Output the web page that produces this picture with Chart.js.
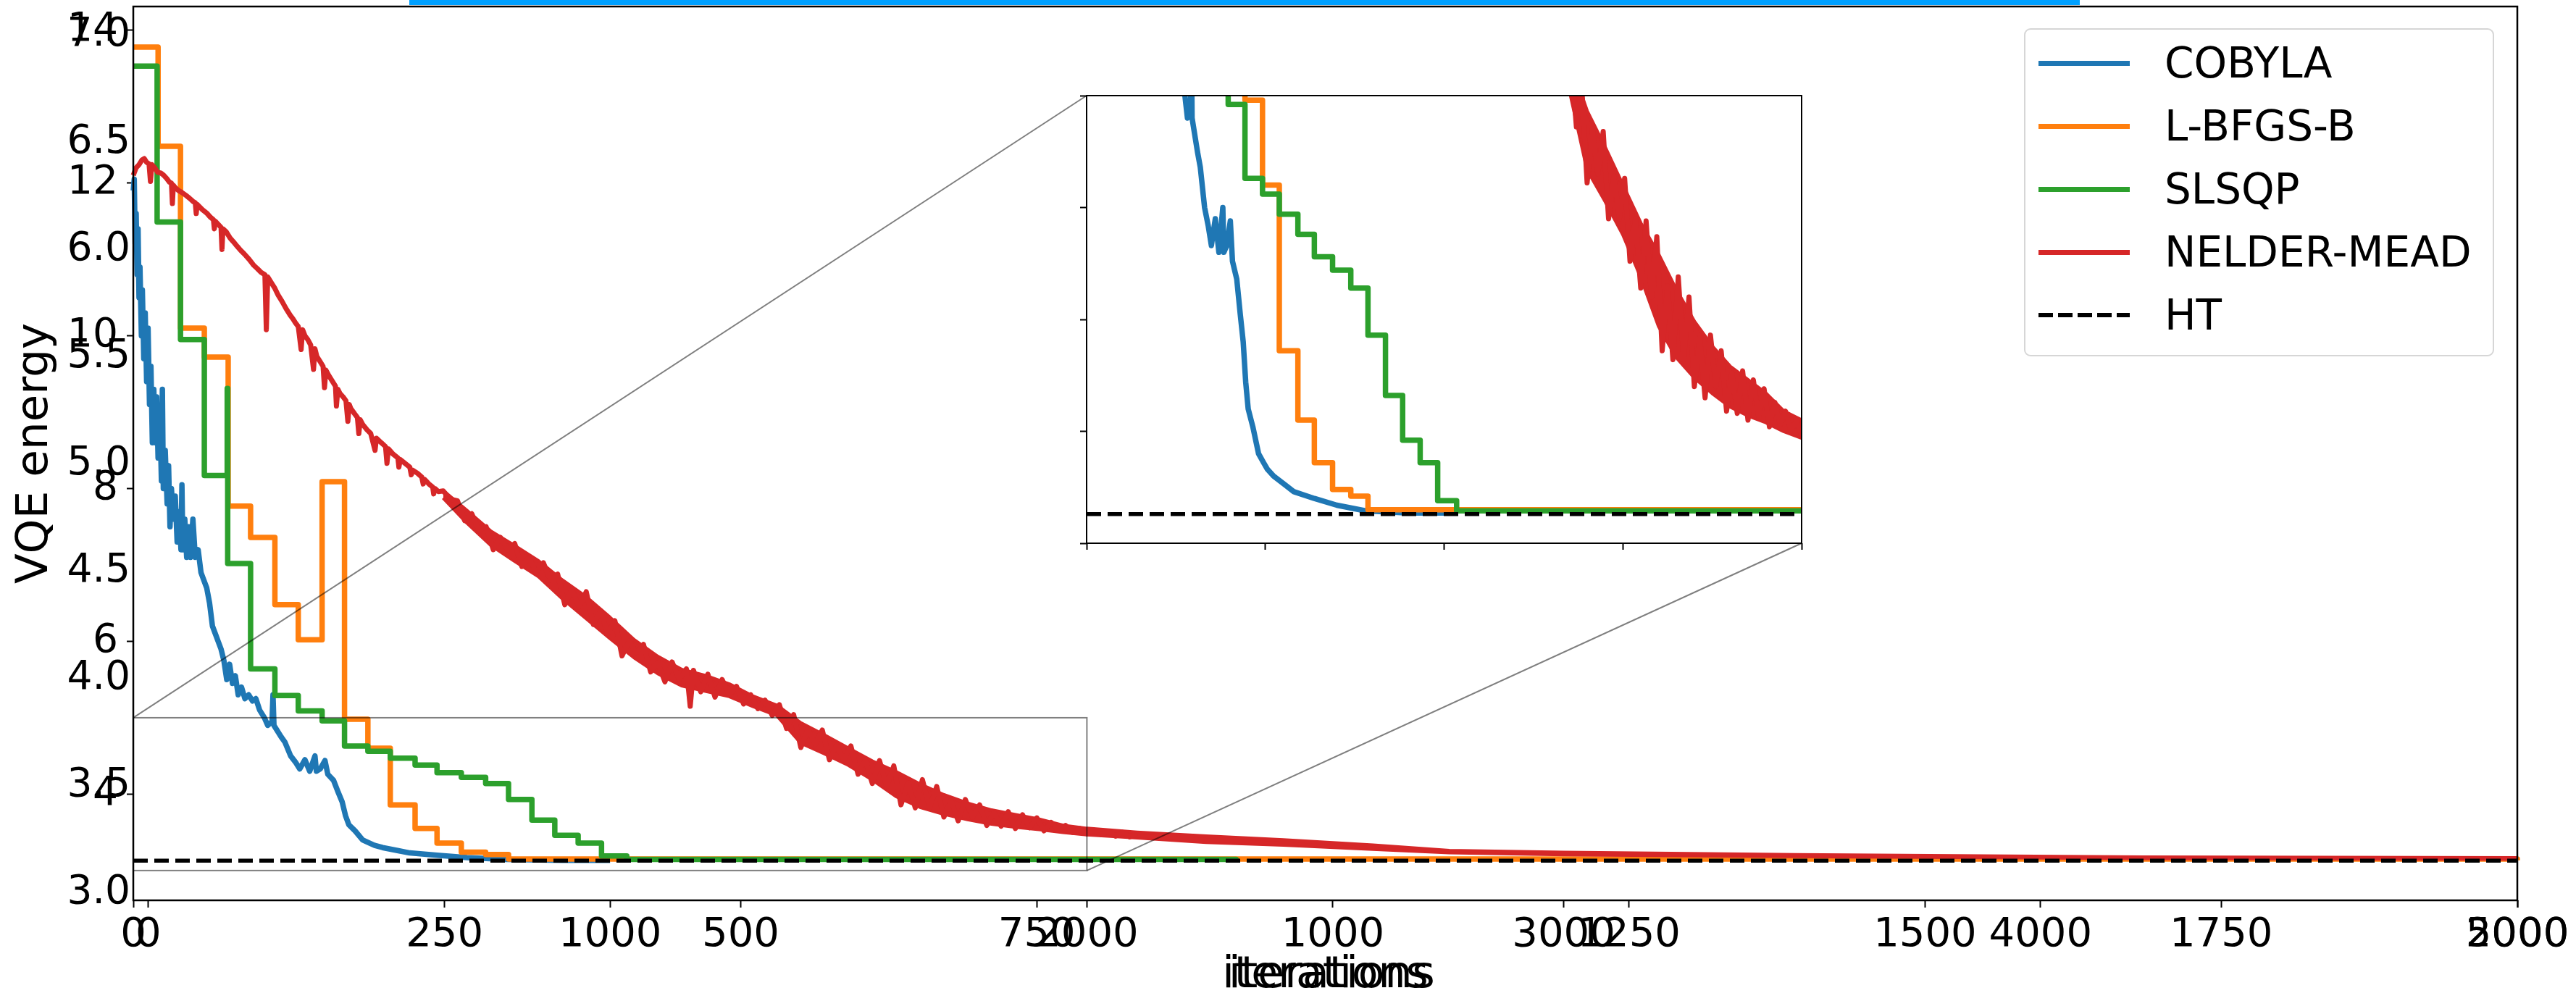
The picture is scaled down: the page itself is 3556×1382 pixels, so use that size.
<!DOCTYPE html>
<html>
<head>
<meta charset="utf-8">
<script src="https://cdn.jsdelivr.net/npm/chart.js@4/dist/chart.umd.min.js"></script>
<style>
  html, body { margin: 0; padding: 0; background: #fff; }
  body { width: 3556px; height: 1382px; position: relative; overflow: hidden; font-family: "DejaVu Sans", sans-serif; }
  canvas { position: absolute; left: 0; top: 0; }
  .topbar { position: absolute; left: 565px; top: 0; width: 2306px; height: 7px; background: #00a0ff; }
  .legend { position: absolute; left: 2794px; top: 39px; width: 645px; height: 449px; border: 2px solid #d6d6d6; border-radius: 9px; background: rgba(255,255,255,0.85); }
  .legend .row { position: absolute; left: 18px; height: 60px; display: flex; align-items: center; white-space: nowrap; }
  .legend .swatch { width: 126px; height: 7px; margin-right: 48px; }
  .legend .dash { height: 6px; background: repeating-linear-gradient(to right, #000 0 20px, transparent 20px 27px); }
  .legend span { font-size: 58px; line-height: 60px; color: #000; }
</style>
</head>
<body>
<canvas id="main" width="3556" height="1382"></canvas>
<canvas id="twin" width="3556" height="1382"></canvas>
<canvas id="inset" width="3556" height="1382"></canvas>
<div class="topbar"></div>
<div class="legend">
  <div class="row" style="top:16px"><div class="swatch" style="background:#1f77b4"></div><span>COBYLA</span></div>
  <div class="row" style="top:103px"><div class="swatch" style="background:#ff7f0e"></div><span>L-BFGS-B</span></div>
  <div class="row" style="top:190px"><div class="swatch" style="background:#2ca02c"></div><span>SLSQP</span></div>
  <div class="row" style="top:277px"><div class="swatch" style="background:#d62728"></div><span>NELDER-MEAD</span></div>
  <div class="row" style="top:364px"><div class="swatch dash"></div><span>HT</span></div>
</div>
<script>
// energy per iteration for each optimiser
let cobylaIter = [0, 2, 4, 6, 8, 10, 12, 14, 17, 19, 22, 25, 28, 31, 34, 37, 40, 43, 46, 49, 52, 56, 59, 61, 63, 67, 71, 74, 77, 80, 84, 88, 92, 96, 100, 102, 104, 108, 112, 116, 120, 125, 130, 136, 142, 148, 154, 160, 166, 172, 178, 184, 190, 196, 202, 208, 214, 220, 227, 234, 242, 250, 257, 265, 275, 282, 291, 293, 295, 300, 310, 318, 330, 340, 349, 360, 370, 381, 384, 392, 402, 408, 420, 430, 438, 445, 452, 465, 481, 495, 506, 523, 556, 580, 637, 700, 780, 900, 1000]
let cobylaEnergy = [11.9, 12.05, 11.2, 11.6, 10.8, 11.4, 10.5, 10.9, 10.0, 10.6, 9.7, 10.3, 9.4, 10.1, 9.1, 9.6, 8.6, 9.3, 8.6, 9.2, 8.4, 8.9, 8.1, 9.3, 8.0, 8.5, 7.8, 8.3, 7.5, 8.0, 7.6, 7.9, 7.3, 7.7, 7.2, 8.05, 7.2, 7.6, 7.1, 7.5, 7.1, 7.6, 7.1, 7.2, 6.9, 6.8, 6.7, 6.5, 6.2, 6.1, 6.0, 5.9, 5.75, 5.5, 5.7, 5.45, 5.55, 5.3, 5.4, 5.25, 5.3, 5.22, 5.25, 5.1, 5.0, 4.9, 4.95, 5.3, 4.9, 4.85, 4.75, 4.68, 4.5, 4.42, 4.33, 4.45, 4.3, 4.5, 4.3, 4.33, 4.44, 4.26, 4.18, 4.02, 3.9, 3.72, 3.6, 3.52, 3.4, 3.36, 3.33, 3.3, 3.26, 3.23, 3.2, 3.17, 3.145, 3.135, 3.135]

let lbfgsbIter = [0, 52, 99, 149, 199, 246, 297, 346, 396, 443, 492, 539, 591, 637, 688, 739, 787, 5000]
let lbfgsbEnergy = [13.78, 12.48, 10.10, 9.72, 7.77, 7.36, 6.48, 6.02, 8.09, 4.98, 4.60, 3.86, 3.55, 3.36, 3.24, 3.21, 3.15, 3.135]

let slsqpIter = [0, 50, 99, 149, 197, 198, 246, 297, 346, 396, 443, 492, 539, 591, 637, 688, 739, 787, 836, 884, 933, 982, 1035, 2313]
let slsqpEnergy = [13.53, 11.49, 9.95, 8.17, 9.31, 7.02, 5.64, 5.29, 5.09, 4.96, 4.63, 4.56, 4.47, 4.38, 4.28, 4.22, 4.14, 3.93, 3.66, 3.46, 3.36, 3.19, 3.145, 3.14]

// nelder-mead trace up to ~2100 iterations (spikes included)
let nelderIter = [0, 6, 12, 18, 23, 28, 33, 36, 39, 45, 51, 58, 64, 70, 76, 80, 82, 84, 88, 95, 101, 110, 118, 125, 130, 132, 134, 145, 155, 162, 168, 170, 172, 178, 184, 186, 188, 195, 203, 210, 218, 225, 233, 243, 253, 260, 268, 276, 279, 282, 290, 297, 304, 312, 320, 329, 335, 340, 346, 352, 355, 360, 366, 372, 378, 381, 385, 392, 398, 401, 404, 410, 418, 424, 426, 429, 433, 440, 446, 450, 453, 456, 464, 470, 473, 476, 481, 490, 498, 507, 510, 520, 529, 532, 535, 545, 555, 557, 560, 570, 580, 583, 586, 596, 605, 608, 611, 620, 628, 630, 633, 640,
    650, 665, 680, 695, 710, 725, 740, 755, 770, 785, 800, 815, 830, 845, 860, 875, 890, 905, 920, 935, 950, 965, 980, 995, 1010, 1025, 1040, 1055, 1070, 1085, 1100, 1115, 1130, 1145, 1160, 1168, 1175, 1190, 1205, 1220, 1235, 1250, 1265, 1280, 1295, 1310, 1325, 1340, 1355, 1370, 1385, 1400, 1415, 1430, 1445, 1460, 1475, 1490, 1505, 1520, 1535, 1550, 1565, 1580, 1595, 1610, 1625, 1640, 1655, 1670, 1685, 1700, 1715, 1730, 1745, 1760, 1775, 1790, 1805, 1820, 1835, 1850, 1865, 1880, 1895, 1910, 1925, 1940, 1955, 1970, 1985, 2000, 2015, 2030, 2045, 2060, 2075, 2090, 2105]
let nelderEnergy = [12.1, 12.2, 12.24, 12.3, 12.32, 12.27, 12.25, 12.02, 12.24, 12.2, 12.14, 12.13, 12.1, 12.06, 12.01, 12.0, 11.73, 11.97, 11.94, 11.9, 11.88, 11.84, 11.8, 11.76, 11.74, 11.6, 11.72, 11.65, 11.6, 11.55, 11.52, 11.4, 11.5, 11.46, 11.42, 11.13, 11.4, 11.36, 11.28, 11.23, 11.17, 11.12, 11.07, 11.0, 10.92, 10.88, 10.83, 10.8, 10.08, 10.77, 10.69, 10.62, 10.53, 10.45, 10.36, 10.27, 10.22, 10.17, 10.12, 9.82, 10.08, 10.0, 9.95, 9.88, 9.56, 9.83, 9.73, 9.66, 9.6, 9.32, 9.55, 9.48, 9.4, 9.34, 9.08, 9.3, 9.25, 9.2, 9.15, 8.88, 9.1, 9.05, 8.98, 8.93, 8.72, 8.9, 8.84, 8.77, 8.72, 8.5, 8.66, 8.6, 8.55, 8.33, 8.52, 8.45, 8.4, 8.28, 8.38, 8.33, 8.28, 8.18, 8.24, 8.2, 8.15, 8.06, 8.12, 8.06, 8.02, 7.93, 8.0, 7.96,
    7.97, 7.86, 7.84, 7.58, 7.67, 7.45, 7.5, 7.2, 7.36, 7.2, 7.28, 6.98, 7.1, 6.9, 7.03, 6.8, 6.88, 6.48, 6.68, 6.45, 6.65, 6.22, 6.4, 6.1, 6.27, 5.81, 6.0, 5.85, 5.96, 5.6, 5.72, 5.47, 5.73, 5.5, 5.64, 5.15, 5.62, 5.34, 5.57, 5.27, 5.5, 5.3, 5.41, 5.18, 5.3, 5.12, 5.23, 5.03, 5.17, 4.86, 5.04, 4.61, 4.85, 4.65, 4.84, 4.45, 4.64, 4.45, 4.63, 4.26, 4.45, 4.14, 4.44, 4.1, 4.37, 3.86, 4.15, 3.82, 4.19, 3.82, 4.1, 3.7, 3.92, 3.65, 3.93, 3.7, 3.86, 3.59, 3.76, 3.58, 3.77, 3.55, 3.73, 3.56, 3.69, 3.52, 3.63, 3.53, 3.59, 3.5, 3.55, 3.48, 3.53, 3.47, 3.51, 3.45, 3.5, 3.44, 3.49]

// solid core of the noisy trace, then the converged tail
let nelderBandIter = [650, 700, 750, 800, 850, 900, 950, 1000, 1050, 1100, 1150, 1200, 1250, 1300, 1350, 1400, 1450, 1500, 1550, 1600, 1650, 1700, 1750, 1800, 1850, 1900, 1950, 2000, 2105, 2250, 2412, 2600, 2760, 3000, 3486, 4214, 5000]
let nelderBandHigh = [7.97, 7.71, 7.44, 7.25, 7.05, 6.8, 6.58, 6.31, 6.02, 5.8, 5.63, 5.55, 5.44, 5.28, 5.16, 4.93, 4.77, 4.6, 4.43, 4.29, 4.13, 3.99, 3.88, 3.79, 3.73, 3.67, 3.59, 3.55, 3.5, 3.45, 3.4, 3.33, 3.26, 3.235, 3.205, 3.175, 3.165]
let nelderBandLow = [7.88, 7.55, 7.26, 7.05, 6.85, 6.56, 6.3, 6.04, 5.79, 5.58, 5.42, 5.35, 5.28, 5.15, 5.03, 4.67, 4.53, 4.38, 4.19, 3.97, 3.83, 3.74, 3.67, 3.61, 3.57, 3.54, 3.5, 3.47, 3.43, 3.37, 3.335, 3.28, 3.235, 3.21, 3.185, 3.16, 3.15]

let htIter = [0, 5000]
let htEnergy = [3.13, 3.13]

// axes
let iterRange = [0, 5000]
let energyRange = [2.61, 14.31]
let iterTicks = [0, 1000, 2000, 3000, 4000, 5000]
let energyTicks = [4, 6, 8, 10, 12, 14]

let twinIterRange = [-12.8, 2000]
let twinEnergyRange = [2.966, 7.135]
let twinIterTicks = [0, 250, 500, 750, 1000, 1250, 1500, 1750, 2000]
let twinEnergyTicks = [3.0, 3.5, 4.0, 4.5, 5.0, 5.5, 6.0, 6.5, 7.0]

let insetIterRange = [0, 2000]
let insetEnergyRange = [3, 5]
let insetIterTicks = [0, 500, 1000, 1500, 2000]
let insetEnergyTicks = [3, 3.5, 4, 4.5, 5]

// page layout in px
const W = 3556, H = 1382
const plotBox = { left: 184, top: 9, right: 3475, bottom: 1243 }
const insetBox = { left: 1500, top: 132, right: 2487, bottom: 750 }

Chart.defaults.font.family = "'DejaVu Sans', sans-serif"
Chart.defaults.color = "#000"

function to_points(xs, ys) {
    return xs.map((x, i) => ({ x: x, y: ys[i] }))
}

function make_datasets(clip) {
    let red = "#d62728"
    let base = { pointRadius: 0, borderWidth: 7.5, borderJoinStyle: "round", fill: false, clip: clip }
    return [
        Object.assign({}, base, { label: "HT", data: to_points(htIter, htEnergy), borderColor: "#000", borderWidth: 5.5, borderDash: [20, 9], order: 0 }),
        Object.assign({}, base, { label: "NELDER-MEAD", data: to_points(nelderIter, nelderEnergy), borderColor: red, borderWidth: 7, order: 1 }),
        Object.assign({}, base, { label: "NELDER-MEAD band", data: to_points(nelderBandIter, nelderBandHigh), borderColor: red, backgroundColor: red, borderWidth: 5, fill: "+1", order: 1 }),
        Object.assign({}, base, { label: "NELDER-MEAD band low", data: to_points(nelderBandIter, nelderBandLow), borderColor: red, borderWidth: 5, order: 1 }),
        Object.assign({}, base, { label: "SLSQP", data: to_points(slsqpIter, slsqpEnergy), borderColor: "#2ca02c", stepped: true, order: 2 }),
        Object.assign({}, base, { label: "L-BFGS-B", data: to_points(lbfgsbIter, lbfgsbEnergy), borderColor: "#ff7f0e", stepped: true, order: 3 }),
        Object.assign({}, base, { label: "COBYLA", data: to_points(cobylaIter, cobylaEnergy), borderColor: "#1f77b4", order: 4 })
    ]
}

function fixed_ticks(values) {
    return function (scale) { scale.ticks = values.map((v) => ({ value: v })) }
}

function fix_width(w) {
    return function (scale) { scale.width = w; scale.paddingTop = 0; scale.paddingBottom = 0 }
}

function fix_height(h) {
    return function (scale) { scale.height = h; scale.paddingLeft = 0; scale.paddingRight = 0 }
}

const base_options = {
    responsive: false,
    animation: false,
    events: [],
    plugins: { legend: { display: false }, tooltip: { enabled: false } }
}

// spines plus the zoom rectangle and its connector lines
const mainFrame = {
    id: "mainFrame",
    afterDatasetsDraw(chart) {
        let ctx = chart.ctx
        let xs = chart.scales.x, ys = chart.scales.y
        let x0 = xs.getPixelForValue(insetIterRange[0]), x1 = xs.getPixelForValue(insetIterRange[1])
        let y0 = ys.getPixelForValue(insetEnergyRange[1]), y1 = ys.getPixelForValue(insetEnergyRange[0])
        ctx.save()
        ctx.strokeStyle = "rgba(0,0,0,0.5)"
        ctx.lineWidth = 2
        ctx.strokeRect(x0, y0, x1 - x0, y1 - y0)
        ctx.beginPath()
        ctx.moveTo(x0, y0)
        ctx.lineTo(insetBox.left, insetBox.top)
        ctx.moveTo(x1, y1)
        ctx.lineTo(insetBox.right, insetBox.bottom)
        ctx.stroke()
        ctx.restore()
    },
    afterDraw(chart) {
        let a = chart.chartArea
        let ctx = chart.ctx
        ctx.save()
        ctx.strokeStyle = "#000"
        ctx.lineWidth = 2.5
        ctx.strokeRect(a.left, a.top, a.right - a.left, a.bottom - a.top)
        ctx.restore()
    }
}

const insetFrame = {
    id: "insetFrame",
    beforeDraw(chart) {
        let a = chart.chartArea
        chart.ctx.save()
        chart.ctx.fillStyle = "#fff"
        chart.ctx.fillRect(a.left, a.top, a.right - a.left, a.bottom - a.top)
        chart.ctx.restore()
    },
    afterDraw(chart) {
        let a = chart.chartArea
        chart.ctx.save()
        chart.ctx.strokeStyle = "#000"
        chart.ctx.lineWidth = 2
        chart.ctx.strokeRect(a.left, a.top, a.right - a.left, a.bottom - a.top)
        chart.ctx.restore()
    }
}

let mainChart = new Chart(document.getElementById("main"), {
    type: "line",
    data: { datasets: make_datasets(4) },
    options: Object.assign({}, base_options, {
        layout: { padding: { top: plotBox.top, right: W - plotBox.right, left: 0, bottom: 0 } },
        scales: {
            x: {
                type: "linear", min: iterRange[0], max: iterRange[1],
                afterBuildTicks: fixed_ticks(iterTicks),
                afterFit: fix_height(H - plotBox.bottom),
                border: { display: false },
                grid: { drawOnChartArea: false, tickLength: 10, tickWidth: 2, tickColor: "#000" },
                ticks: { font: { size: 56 }, padding: 5, maxRotation: 0, autoSkip: false, callback: (v) => String(v) },
                title: { display: true, text: "iterations", font: { size: 60, lineHeight: 0.9 }, padding: { top: 0, bottom: 8 } }
            },
            y: {
                type: "linear", min: energyRange[0], max: energyRange[1],
                afterBuildTicks: fixed_ticks(energyTicks),
                afterFit: fix_width(plotBox.left),
                border: { display: false },
                grid: { drawOnChartArea: false, tickLength: 9, tickWidth: 2, tickColor: "#000" },
                ticks: { font: { size: 55 }, padding: 12, callback: (v) => String(v) },
                title: { display: true, text: "VQE energy", font: { size: 61 }, padding: { top: 13, bottom: 0 } }
            }
        }
    }),
    plugins: [mainFrame]
})

// second set of axes drawn over the same box
let twinChart = new Chart(document.getElementById("twin"), {
    type: "line",
    data: { datasets: [] },
    options: Object.assign({}, base_options, {
        layout: { padding: { top: plotBox.top, right: W - plotBox.right, left: 0, bottom: 0 } },
        scales: {
            x: {
                type: "linear", min: twinIterRange[0], max: twinIterRange[1],
                afterBuildTicks: fixed_ticks(twinIterTicks),
                afterFit: fix_height(H - plotBox.bottom),
                border: { display: false },
                grid: { drawOnChartArea: false, tickLength: 10, tickWidth: 2, tickColor: "#000" },
                ticks: { font: { size: 56 }, padding: 5, maxRotation: 0, autoSkip: false, callback: (v) => String(v) },
                title: { display: true, text: "\u2009\u200aiterations", font: { size: 60, lineHeight: 0.9 }, padding: { top: 0, bottom: 8 } }
            },
            y: {
                type: "linear", min: twinEnergyRange[0], max: twinEnergyRange[1],
                afterBuildTicks: fixed_ticks(twinEnergyTicks),
                afterFit: fix_width(plotBox.left),
                border: { display: false },
                grid: { drawOnChartArea: false, drawTicks: false },
                ticks: { font: { size: 55 }, padding: 4, callback: (v) => v.toFixed(1) }
            }
        }
    })
})

let insetChart = new Chart(document.getElementById("inset"), {
    type: "line",
    data: { datasets: make_datasets(0) },
    options: Object.assign({}, base_options, {
        layout: { padding: { top: insetBox.top, right: W - insetBox.right, left: insetBox.left, bottom: H - insetBox.bottom } },
        scales: {
            x: {
                type: "linear", min: insetIterRange[0], max: insetIterRange[1],
                afterBuildTicks: fixed_ticks(insetIterTicks),
                afterFit: fix_height(0),
                border: { display: false },
                grid: { drawOnChartArea: false, tickLength: 9, tickWidth: 2, tickColor: "#000" },
                ticks: { display: false }
            },
            y: {
                type: "linear", min: insetEnergyRange[0], max: insetEnergyRange[1],
                afterBuildTicks: fixed_ticks(insetEnergyTicks),
                afterFit: fix_width(0),
                border: { display: false },
                grid: { drawOnChartArea: false, tickLength: 9, tickWidth: 2, tickColor: "#000" },
                ticks: { display: false }
            }
        }
    }),
    plugins: [insetFrame]
})
</script>
</body>
</html>
